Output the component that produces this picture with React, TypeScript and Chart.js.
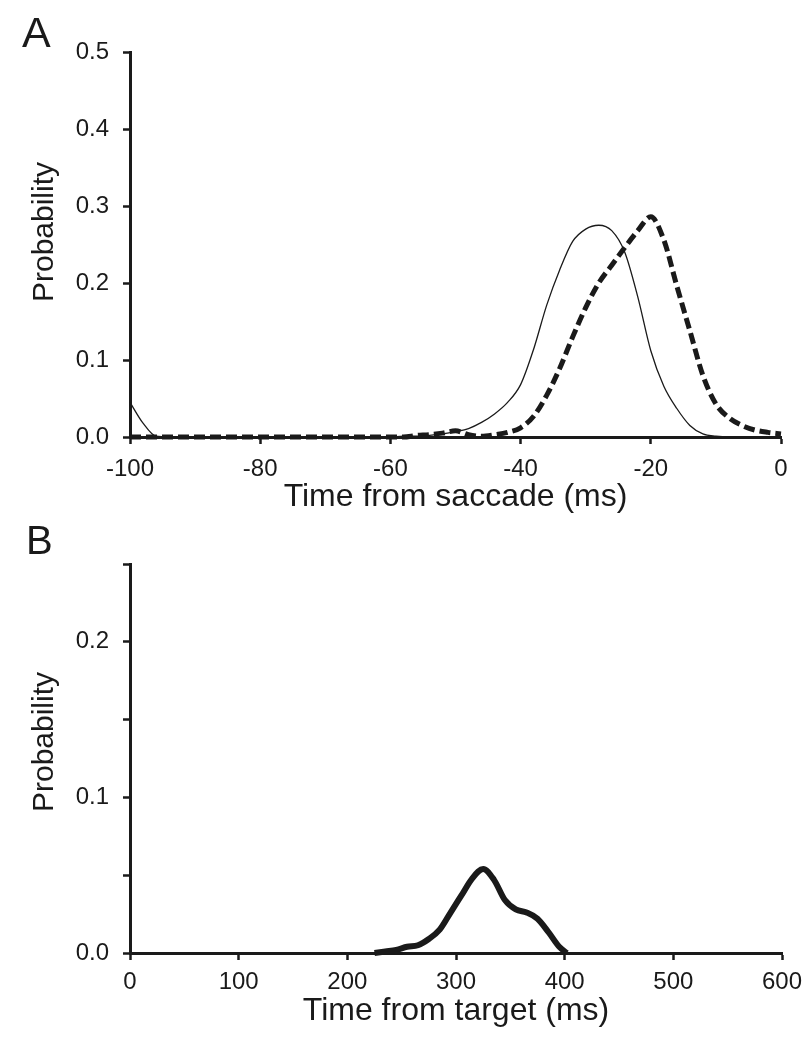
import React, { useEffect, useRef } from 'react';
import { Chart, registerables } from 'chart.js';

Chart.register(...registerables);

// ---------- Panel A data (time from saccade, ms) ----------
const timeA = [
  -100, -98, -96, -94, -92, -90, -88, -86, -84, -82, -80, -78, -76, -74, -72, -70, -68,
  -66, -64, -62, -60, -58, -56, -54, -52, -50, -48, -46, -44, -42, -40, -38, -36, -34,
  -32, -30, -28, -26, -24, -22, -20, -18, -16, -14, -12, -10, -8, -6, -4, -2, 0,
];
const thinA = [
  0.045, 0.018, 0.001, 0, 0, 0, 0, 0, 0, 0, 0, 0, 0, 0, 0, 0, 0,
  0, 0, 0, 0, 0.001, 0.001, 0.002, 0.004, 0.007, 0.011, 0.019, 0.03, 0.045, 0.068, 0.114, 0.171, 0.217,
  0.254, 0.27, 0.275, 0.268, 0.24, 0.182, 0.112, 0.066, 0.037, 0.015, 0.004, 0.001, 0, 0, 0, 0, 0,
];
const dashA = [
  0, 0, 0, 0, 0, 0, 0, 0, 0, 0, 0, 0, 0, 0, 0, 0, 0,
  0, 0, 0, 0, 0, 0.002, 0.003, 0.005, 0.008, 0.003, 0.001, 0.003, 0.006, 0.012, 0.027, 0.054, 0.089,
  0.13, 0.168, 0.2, 0.223, 0.246, 0.268, 0.286, 0.256, 0.196, 0.138, 0.08, 0.043, 0.025, 0.015, 0.009, 0.006, 0.004,
];
const xTicksA = { min: -100, max: 0, step: 20 };
const yTicksA = { min: 0, max: 0.5, step: 0.1 };

// ---------- Panel B data (time from target, ms) ----------
const timeB = [225, 235, 245, 255, 265, 275, 285, 295, 305, 315, 325, 335, 345, 355, 365, 375, 385, 395, 402];
const probB = [0, 0.001, 0.002, 0.004, 0.005, 0.009, 0.015, 0.026, 0.037, 0.048, 0.054, 0.047, 0.034, 0.028, 0.026, 0.022, 0.0135, 0.004, 0];
const xTicksB = { min: 0, max: 600, step: 100 };
const yTicksB = { min: 0, max: 0.25, step: 0.05 };

const FONT = '"Liberation Sans", Arial, Helvetica, sans-serif';
const INK = '#1a1a1a';

const panelText = {
  id: 'panelText',
  afterDraw(chart: any, _args: any, opts: any) {
    const ctx = chart.ctx;
    ctx.save();
    ctx.fillStyle = INK;
    ctx.textAlign = 'left';
    ctx.textBaseline = 'alphabetic';
    ctx.font = `${opts.letterSize}px ${FONT}`;
    ctx.fillText(opts.letter, opts.letterX, opts.letterY);
    ctx.translate(opts.ylabelX, opts.ylabelY);
    ctx.rotate(-Math.PI / 2);
    ctx.font = `${opts.ylabelSize}px ${FONT}`;
    ctx.textAlign = 'center';
    ctx.fillText(opts.ylabel, 0, 0);
    ctx.restore();
  },
};

function axisCommon() {
  return {
    grid: {
      drawOnChartArea: false,
      drawTicks: true,
      tickLength: 7,
      tickWidth: 2.5,
      tickColor: INK,
      color: INK,
    },
    border: { display: true, color: INK, width: 3 },
  };
}

function makeConfig(opts: any) {
  const {
    datasets, xT, yT, xTitle, padTop, padRight, xHeight, xTickPad, titlePadBottom,
    labelEvery, letter, letterSize, letterX, letterY, ylabelY,
  } = opts;
  return {
    type: 'line',
    data: { datasets },
    plugins: [panelText],
    options: {
      responsive: false,
      animation: false,
      devicePixelRatio: 1,
      events: [],
      layout: { padding: { left: 0, top: padTop, right: padRight, bottom: 0 } },
      plugins: {
        legend: { display: false },
        tooltip: { enabled: false },
        panelText: {
          letter, letterSize, letterX, letterY,
          ylabel: 'Probability', ylabelSize: 30, ylabelX: 53, ylabelY,
        },
      },
      scales: {
        x: {
          type: 'linear',
          min: xT.min,
          max: xT.max,
          afterFit: (s: any) => {
            s.height = xHeight;
            s.paddingLeft = 0;
            s.paddingRight = 0;
          },
          ticks: {
            stepSize: xT.step,
            autoSkip: false,
            maxRotation: 0,
            minRotation: 0,
            padding: xTickPad,
            color: INK,
            font: { family: FONT, size: 24 },
          },
          title: {
            display: true,
            text: xTitle,
            color: INK,
            font: { family: FONT, size: 32 },
            padding: { top: 0, bottom: titlePadBottom },
          },
          ...axisCommon(),
        },
        y: {
          type: 'linear',
          min: yT.min,
          max: yT.max,
          afterFit: (s: any) => {
            s.width = 130;
            s.paddingTop = 0;
            s.paddingBottom = 0;
          },
          ticks: {
            stepSize: yT.step,
            autoSkip: false,
            padding: 14,
            color: INK,
            font: { family: FONT, size: 24 },
            callback: (v: any) => {
              const n = Number(v);
              const k = n / labelEvery;
              return Math.abs(k - Math.round(k)) < 1e-6 ? n.toFixed(1) : '';
            },
          },
          ...axisCommon(),
        },
      },
    },
  };
}

export default function App() {
  const refA = useRef<HTMLCanvasElement>(null);
  const refB = useRef<HTMLCanvasElement>(null);

  useEffect(() => {
    const dsA = [
      {
        data: timeA.map((t, i) => ({ x: t, y: thinA[i] })),
        borderColor: INK,
        borderWidth: 1.3,
        pointRadius: 0,
        cubicInterpolationMode: 'monotone',
        clip: false,
        fill: false,
      },
      {
        data: timeA.map((t, i) => ({ x: t, y: dashA[i] })),
        borderColor: INK,
        borderWidth: 5,
        borderDash: [11, 5],
        borderCapStyle: 'butt',
        pointRadius: 0,
        cubicInterpolationMode: 'monotone',
        clip: false,
        fill: false,
      },
    ];
    const dsB = [
      {
        data: timeB.map((t, i) => ({ x: t, y: probB[i] })),
        borderColor: INK,
        borderWidth: 6,
        borderJoinStyle: 'round',
        pointRadius: 0,
        cubicInterpolationMode: 'monotone',
        clip: false,
        fill: false,
      },
    ];
    const chartA = new Chart(
      refA.current as HTMLCanvasElement,
      makeConfig({
        datasets: dsA, xT: xTicksA, yT: yTicksA, xTitle: 'Time from saccade (ms)',
        padTop: 52, padRight: 31, xHeight: 83, xTickPad: 11, titlePadBottom: 4,
        labelEvery: 0.1, letter: 'A', letterSize: 43, letterX: 22, letterY: 47, ylabelY: 232,
      }) as any
    );
    const chartB = new Chart(
      refB.current as HTMLCanvasElement,
      makeConfig({
        datasets: dsB, xT: xTicksB, yT: yTicksB, xTitle: 'Time from target (ms)',
        padTop: 44, padRight: 30, xHeight: 97, xTickPad: 8, titlePadBottom: 20,
        labelEvery: 0.1, letter: 'B', letterSize: 40, letterX: 26, letterY: 34, ylabelY: 222,
      }) as any
    );
    return () => {
      chartA.destroy();
      chartB.destroy();
    };
  }, []);

  return (
    <div style={{ position: 'absolute', left: 0, top: 0, width: 812, height: 1050, background: '#fff' }}>
      <canvas
        ref={refA}
        width={812}
        height={520}
        style={{ position: 'absolute', left: 0, top: 0, width: 812, height: 520 }}
      />
      <canvas
        ref={refB}
        width={812}
        height={530}
        style={{ position: 'absolute', left: 0, top: 520, width: 812, height: 530 }}
      />
    </div>
  );
}
